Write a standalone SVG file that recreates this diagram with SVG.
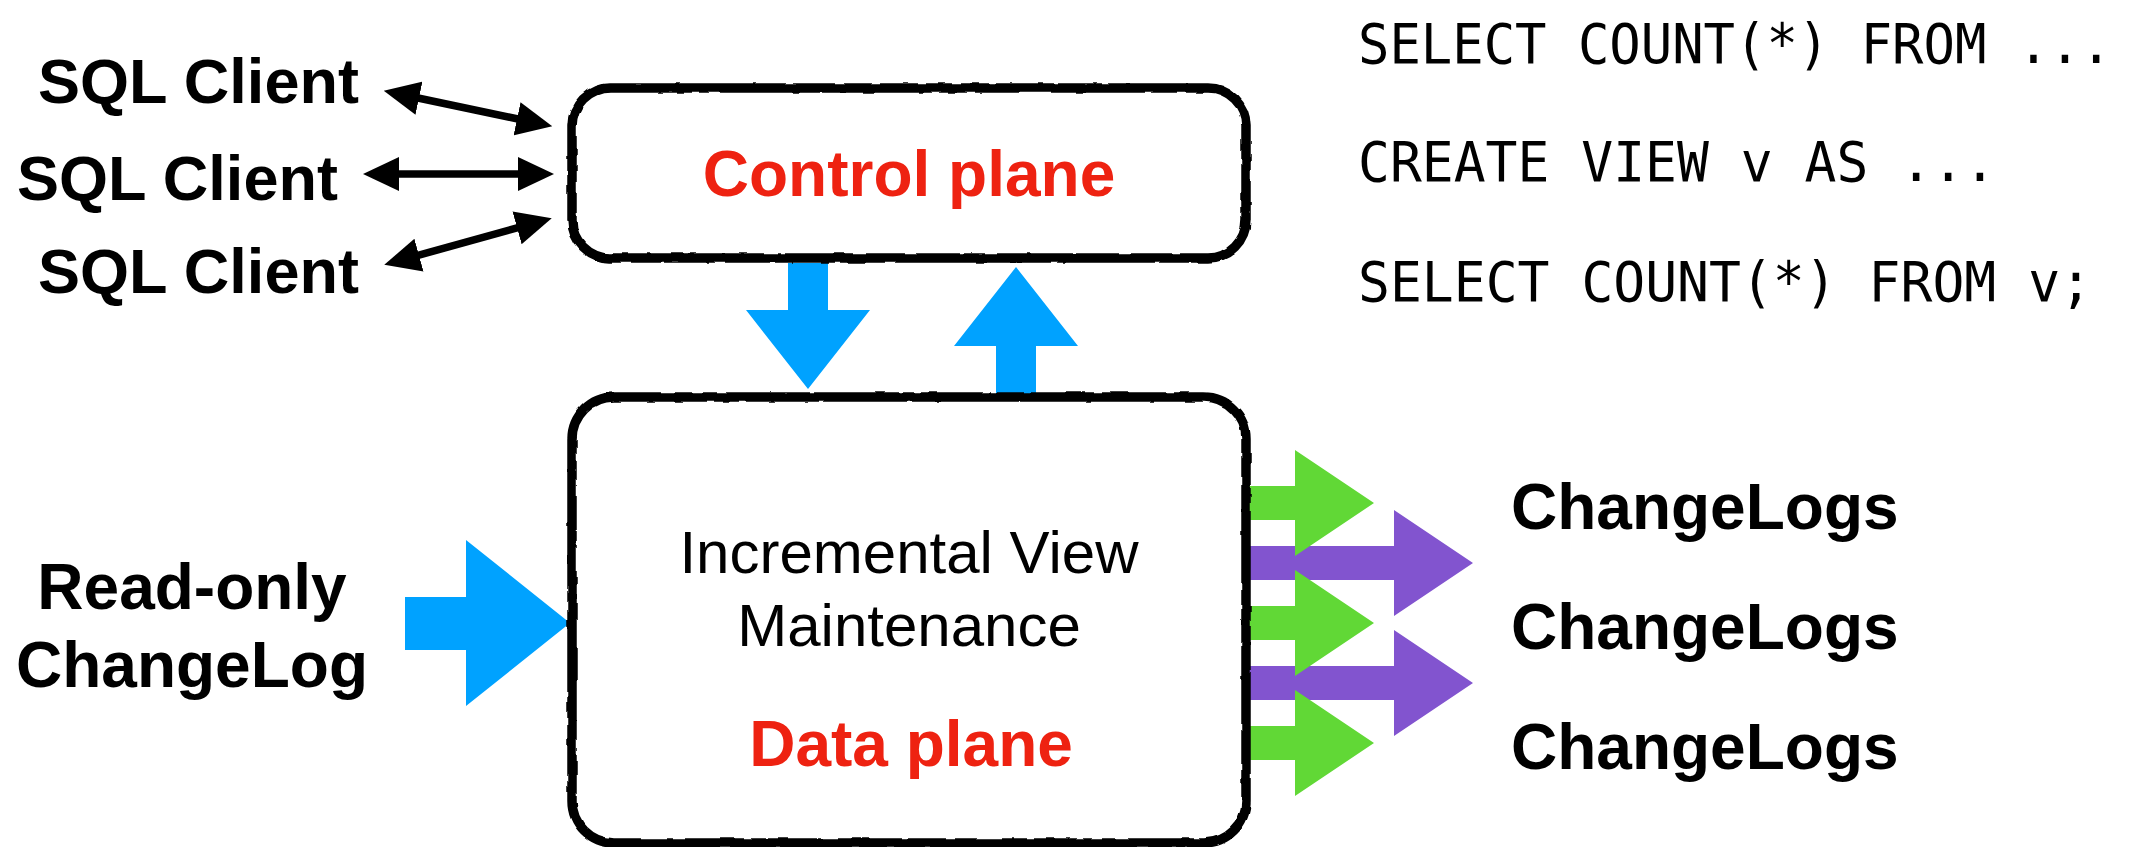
<svg xmlns="http://www.w3.org/2000/svg" width="2150" height="847" viewBox="0 0 2150 847">
  <style>
    .label { font-family: "Liberation Sans", Arial, Helvetica, sans-serif; font-weight: bold; font-size: 63px; fill: #000; }
    .red { font-family: "Liberation Sans", Arial, Helvetica, sans-serif; font-weight: bold; font-size: 64px; fill: #EE2211; }
    .body { font-family: "Liberation Sans", Arial, Helvetica, sans-serif; font-size: 60px; fill: #000; }
    .code { font-family: "DejaVu Sans Mono", "Liberation Mono", monospace; font-size: 55px; fill: #000; }
    .box { fill: none; stroke: #000; stroke-width: 9.5; }
    .link { stroke: #000; stroke-width: 7.5; fill: none; marker-start: url(#head); marker-end: url(#head); }
    .blue { fill: #00A2FF; }
    .green { fill: #61D836; }
    .purple { fill: #8254CF; }
  </style>
  <defs>
    <marker id="head" markerUnits="userSpaceOnUse" viewBox="0 -17 36 34" markerWidth="36" markerHeight="34" refX="1" refY="0" orient="auto-start-reverse">
      <path d="M0,-17 L36,0 L0,17 z" fill="#000"/>
    </marker>
    <filter id="rough" x="-5%" y="-5%" width="110%" height="110%">
      <feTurbulence type="fractalNoise" baseFrequency="0.06" numOctaves="2" seed="3" result="n"/>
      <feDisplacementMap in="SourceGraphic" in2="n" scale="3.5" xChannelSelector="R" yChannelSelector="G"/>
    </filter>
  </defs>

  <rect width="2150" height="847" fill="#fff"/>

  <g id="connectors">
    <line class="link" x1="418" y1="98" x2="518" y2="119"/>
    <line class="link" x1="398" y1="174" x2="519" y2="174"/>
    <line class="link" x1="418" y1="255.4" x2="518" y2="227.6"/>
    <polygon class="blue" points="788,263 828,263 828,310 870,310 808,389 746,310 788,310"/>
    <polygon class="blue" points="1016,267 1078,346 1036,346 1036,395 996,395 996,346 954,346"/>
    <polygon class="blue" points="405,597 466,597 466,540 570,623 466,706 466,650 405,650"/>
    <polygon class="purple" points="1248,546 1394,546 1394,510 1473,563 1394,616 1394,580 1248,580"/>
    <polygon class="purple" points="1248,666 1394,666 1394,630 1473,683 1394,736 1394,700 1248,700"/>
    <polygon class="green" points="1248,486 1295,486 1295,450 1374,503 1295,556 1295,520 1248,520"/>
    <polygon class="green" points="1248,606 1295,606 1295,570 1374,623 1295,676 1295,640 1248,640"/>
    <polygon class="green" points="1248,726 1295,726 1295,690 1374,743 1295,796 1295,760 1248,760"/>
  </g>

  <g id="control-plane">
    <rect class="box" x="572" y="88" width="674" height="170" rx="38" filter="url(#rough)"/>
    <text class="red" x="909" y="196" text-anchor="middle">Control plane</text>
  </g>

  <g id="data-plane">
    <rect class="box" x="572" y="397" width="674" height="446" rx="42" filter="url(#rough)"/>
    <text class="body" x="909" y="573" text-anchor="middle">Incremental View</text>
    <text class="body" x="909" y="646" text-anchor="middle">Maintenance</text>
    <text class="red" x="911" y="766" text-anchor="middle">Data plane</text>
  </g>

  <g id="sql-client-1"><text class="label" x="38" y="103">SQL Client</text></g>
  <g id="sql-client-2"><text class="label" x="17" y="200">SQL Client</text></g>
  <g id="sql-client-3"><text class="label" x="38" y="293">SQL Client</text></g>

  <g id="readonly-changelog">
    <text class="label" x="192" y="609" text-anchor="middle" style="font-size:64px">Read-only</text>
    <text class="label" x="192" y="687" text-anchor="middle" style="font-size:64px">ChangeLog</text>
  </g>

  <g id="changelogs-1"><text class="label" x="1511" y="529" style="font-size:64px">ChangeLogs</text></g>
  <g id="changelogs-2"><text class="label" x="1511" y="649" style="font-size:64px">ChangeLogs</text></g>
  <g id="changelogs-3"><text class="label" x="1511" y="769" style="font-size:64px">ChangeLogs</text></g>

  <g id="sql-statements">
    <text class="code" x="1358" y="63" textLength="754" lengthAdjust="spacingAndGlyphs">SELECT COUNT(*) FROM ...</text>
    <text class="code" x="1358" y="181" textLength="638" lengthAdjust="spacingAndGlyphs">CREATE VIEW v AS ...</text>
    <text class="code" x="1358" y="301" textLength="734" lengthAdjust="spacingAndGlyphs">SELECT COUNT(*) FROM v;</text>
  </g>
</svg>
